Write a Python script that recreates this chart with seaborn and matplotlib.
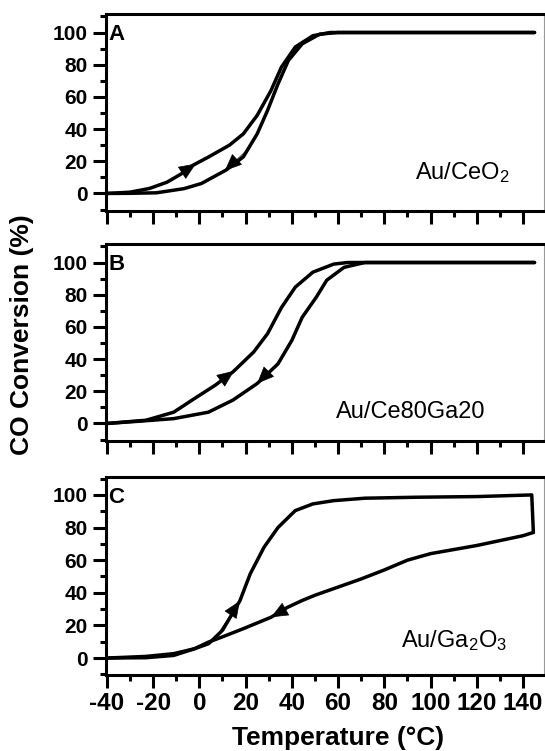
import numpy as np
import pandas as pd
import matplotlib
matplotlib.use("Agg")
import matplotlib.pyplot as plt
import seaborn as sns
from matplotlib.ticker import MultipleLocator

# ---------------- data ----------------
A_heat_T = [-40, -30, -21.6, -14, -8, -2.8, 4, 13, 19, 25, 31, 35.5, 41.5, 49.1, 56.6, 70, 100, 145]
A_heat_y = [0, 0.8, 3.1, 7, 12, 17.5, 22.7, 30, 37, 48.5, 64, 78.5, 91, 98, 100, 100, 100, 100]
A_cool_T = [-40, -30, -18.6, -6.6, 0.9, 11.5, 19, 25, 29.5, 34, 38.5, 44.5, 52.1, 60, 145]
A_cool_y = [0, 0.1, 0.4, 3, 6.2, 14.5, 22.7, 37, 51.6, 68, 82.6, 93, 99, 100, 100]

B_heat_T = [-40, -23.1, -11.1, -2.1, 6.9, 14.5, 23.5, 29.5, 35.5, 41.5, 49.1, 58.1, 64.1, 145]
B_heat_y = [0, 2, 7, 15.5, 23.8, 32, 44.4, 55.8, 72, 84.7, 94, 99, 100, 100]
B_cool_T = [-40, -25, -11.1, 3.9, 14.5, 25, 34, 40, 44.5, 50.6, 55.1, 62.6, 71.6, 145]
B_cool_y = [0, 1.5, 3, 7, 14.5, 24.8, 37, 51.6, 66, 78.5, 89, 97, 100, 100]

C_heat_T = [-40, -23.1, -11.1, -2.1, 4, 10, 17.5, 22, 28, 34, 41.5, 49.1, 58.1, 71.6, 94.2, 120, 143.8, 144.5]
C_heat_y = [0, 1, 2.7, 5.7, 8.8, 17, 35, 51.6, 68, 80, 90.4, 94.5, 96.5, 98, 98.6, 99, 100, 77]
C_cool_T = [144.5, 140, 130, 120, 110, 100, 90, 80, 70, 60, 50, 44.5, 38, 31, 19, 10, 4, -2.1, -11.1, -23.1, -40]
C_cool_y = [77, 75, 72, 69, 66.5, 64, 60, 54, 48.5, 43.5, 38.5, 35.3, 31, 25, 18, 13, 9.8, 5.7, 1.6, 0.2, 0]

panel_letters = ["A", "B", "C"]
sample_names = ["Au/CeO$_\\mathregular{2}$", "Au/Ce80Ga20",
                "Au/Ga$_\\mathregular{2}$O$_\\mathregular{3}$"]
name_pos = [(113.8, 9), (91.3, 3.2), (110.2, 7)]
heat_arrow_T = [-1.5, 15.0, 17.5]
cool_arrow_T = [11.0, 25, 31]
x_ticks = [-40, -20, 0, 20, 40, 60, 80, 100, 120, 140]
y_ticks = [0, 20, 40, 60, 80, 100]

# ---------------- style ----------------
sns.set_theme(style="ticks")
plt.rcParams["font.family"] = ["Liberation Sans", "DejaVu Sans"]
plt.rcParams["mathtext.fontset"] = "custom"
plt.rcParams["mathtext.rm"] = "Liberation Sans"
plt.rcParams["mathtext.it"] = "Liberation Sans:italic"
plt.rcParams["mathtext.bf"] = "Liberation Sans:bold"
plt.rcParams["axes.unicode_minus"] = False
plt.rcParams["text.color"] = "black"
plt.rcParams["axes.labelcolor"] = "black"
plt.rcParams["xtick.color"] = "black"
plt.rcParams["ytick.color"] = "black"

W, H = 545, 751
fig = plt.figure(figsize=(W / 100, H / 100), dpi=100)

left = 106 / W
right = 544 / W
panels_px = [(14.0, 211.0), (244.0, 441.0), (477.0, 675.0)]
ylims = [(-10.9, 111.5), (-10.9, 111.5), (-10.4, 111.0)]

curves = [
    (A_heat_T, A_heat_y, A_cool_T, A_cool_y),
    (B_heat_T, B_heat_y, B_cool_T, B_cool_y),
    (C_heat_T, C_heat_y, C_cool_T, C_cool_y),
]

LW = 2.5


def arrow_on(ax, T, y, t_tip, forward=True):
    Ta = np.asarray(T, float)
    ya = np.asarray(y, float)
    order = np.argsort(Ta)
    Ts, ys = Ta[order], ya[order]
    Ts, idx = np.unique(Ts, return_index=True)
    ys = ys[idx]
    t_tail = t_tip - 10 if forward else t_tip + 10
    y_tip = np.interp(t_tip, Ts, ys)
    y_tail = np.interp(t_tail, Ts, ys)
    ax.annotate("", xy=(t_tip, y_tip), xytext=(t_tail, y_tail),
                arrowprops=dict(arrowstyle="-|>,head_length=0.75,head_width=0.32",
                                mutation_scale=15, color="black", lw=0.5,
                                shrinkA=0, shrinkB=0))


for i, (top_px, bot_px) in enumerate(panels_px):
    b = 1 - bot_px / H
    h = (bot_px - top_px) / H
    ax = fig.add_axes([left, b, right - left, h])
    hT, hy, cT, cy = curves[i]
    dh = pd.DataFrame({"T": hT, "y": hy})
    dc = pd.DataFrame({"T": cT, "y": cy})
    sns.lineplot(data=dh, x="T", y="y", sort=False, estimator=None, color="black",
                 lw=LW, ax=ax, solid_capstyle="round", solid_joinstyle="round")
    sns.lineplot(data=dc, x="T", y="y", sort=False, estimator=None, color="black",
                 lw=LW, ax=ax, solid_capstyle="round", solid_joinstyle="round")
    arrow_on(ax, hT, hy, heat_arrow_T[i], forward=True)
    arrow_on(ax, cT, cy, cool_arrow_T[i], forward=False)

    ax.set_xlim(-40.4, 149.1)
    ax.set_ylim(*ylims[i])
    ax.set_xticks(x_ticks)
    ax.set_yticks(y_ticks)
    ax.xaxis.set_minor_locator(MultipleLocator(10))
    ax.yaxis.set_minor_locator(MultipleLocator(10))
    ax.tick_params(axis="both", which="major", direction="out", length=9.5, width=2.2,
                   color="black")
    ax.tick_params(axis="both", which="minor", direction="out", length=4, width=2.2,
                   color="black")
    ax.tick_params(axis="y", which="major", pad=3.5, labelsize=15)
    ax.tick_params(axis="x", which="major", pad=3, labelsize=17.5)
    for lab in ax.get_yticklabels() + ax.get_xticklabels():
        lab.set_fontweight("bold")
    if i < 2:
        ax.tick_params(axis="x", labelbottom=False)
    ax.set_xlabel("")
    ax.set_ylabel("")
    for s in ["left", "top", "bottom"]:
        ax.spines[s].set_linewidth(2.2)
        ax.spines[s].set_color("black")
    ax.spines["right"].set_linewidth(0.8)
    ax.spines["right"].set_color("#999999")

    ax.annotate(panel_letters[i], xy=(0, 1), xycoords="axes fraction",
                xytext=(1.5, -7), textcoords="offset points",
                ha="left", va="top", fontsize=16, fontweight="bold")
    ax.text(name_pos[i][0], name_pos[i][1], sample_names[i], fontsize=17,
            ha="center", va="baseline")

fig.text(22 / W, 1 - 335 / H, "CO Conversion (%)", rotation=90, ha="center",
         va="center", fontsize=19, fontweight="bold")
fig.text(338 / W, 1 - 745 / H, "Temperature (°C)", ha="center", va="baseline",
         fontsize=19, fontweight="bold")

fig.savefig("out.png", dpi=100)
